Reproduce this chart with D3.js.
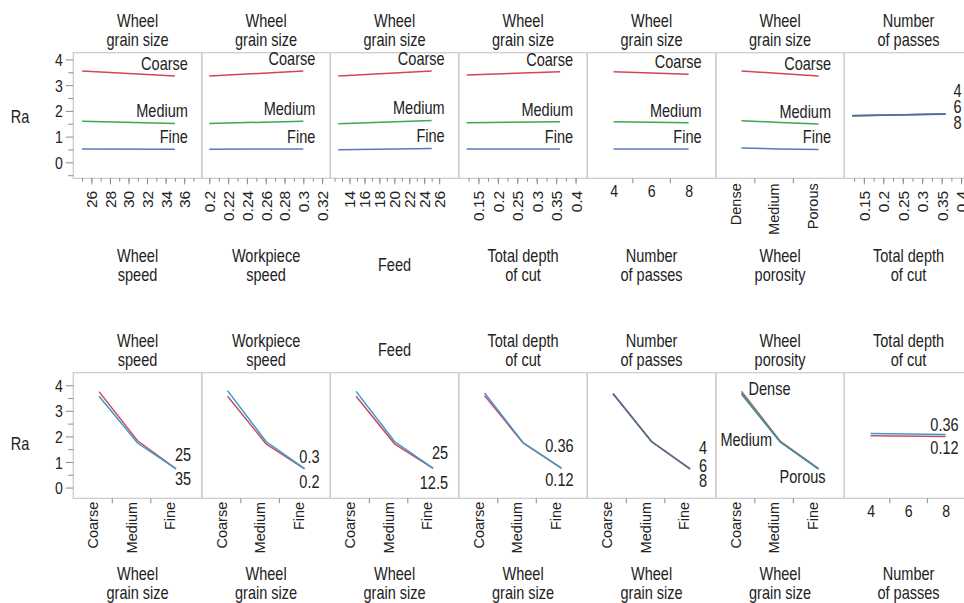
<!DOCTYPE html>
<html>
<head>
<meta charset="utf-8">
<title>Ra interaction profiles</title>
<script src="https://cdn.jsdelivr.net/npm/d3@7"></script>
<style>
  body { margin: 0; background: #fff; }
  text { font-family: "Liberation Sans", Arial, sans-serif; fill: #222; }
</style>
</head>
<body>
<script>
// ---- data ----
var grainSizes = ["Coarse", "Medium", "Fine"];
var porosityLevels = ["Dense", "Medium", "Porous"];
var passLevels = [4, 6, 8];

var wheelSpeedLevels = [25, 35];
var workSpeedLevels = [0.2, 0.3];
var feedLevels = [12.5, 25];
var depthLevels = [0.12, 0.36];
var passRange = [4, 8];

// tick labels
var wheelSpeedTicks = [26, 28, 30, 32, 34, 36];
var workSpeedTicks = [0.2, 0.22, 0.24, 0.26, 0.28, 0.3, 0.32];
var feedTicks = [14, 16, 18, 20, 22, 24, 26];
var depthTicks = [0.15, 0.2, 0.25, 0.3, 0.35, 0.4];
var raTicks = [0, 1, 2, 3, 4];

// top row: Ra for Coarse / Medium / Fine grain
var raWheelSpeed = [[3.55, 3.35], [1.60, 1.51], [0.52, 0.51]];
var raWorkSpeed  = [[3.35, 3.55], [1.51, 1.60], [0.51, 0.52]];
var raFeed       = [[3.35, 3.55], [1.50, 1.63], [0.49, 0.54]];
var raDepth      = [[3.39, 3.52], [1.54, 1.58], [0.52, 0.52]];
var raPasses     = [[3.52, 3.42], [1.58, 1.54], [0.52, 0.52]];
var raPorosity   = [[3.55, 3.45, 3.35], [1.62, 1.55, 1.49], [0.56, 0.52, 0.50]];
// Ra vs depth of cut for 4 / 6 / 8 passes
var raDepthByPasses = [[1.80, 1.89], [1.81, 1.88], [1.82, 1.87]];

// bottom row: Ra over grain size (Coarse, Medium, Fine), one line per factor level
var raGrainWheelSpeed = [[3.75, 1.83, 0.73], [3.57, 1.74, 0.73]];   // 25, 35
var raGrainWorkSpeed  = [[3.57, 1.71, 0.73], [3.79, 1.80, 0.74]];   // 0.2, 0.3
var raGrainFeed       = [[3.57, 1.71, 0.75], [3.76, 1.80, 0.76]];   // 12.5, 25
var raGrainDepth      = [[3.60, 1.74, 0.75], [3.70, 1.76, 0.76]];   // 0.12, 0.36
var raGrainPasses     = [[3.68, 1.80, 0.73], [3.67, 1.79, 0.73], [3.67, 1.80, 0.73]]; // 4, 6, 8
var raGrainPorosity   = [[3.76, 1.82, 0.74], [3.70, 1.80, 0.73], [3.65, 1.78, 0.72]]; // Dense, Medium, Porous
// Ra vs number of passes for depth 0.12 / 0.36
var raPassesByDepth   = [[2.03, 2.00], [2.11, 2.07]];

// ---- look ----
var grainColors = ["#d2465a", "#3da94c", "#5878bb"];
var levelColors = ["#cf4a5c", "#3a9cc8"];
var passColors = ["#c9485f", "#47a957", "#5068b8"];
var passColorsB = ["#b85a6a", "#5f9060", "#5a6c9c"];
var porColors = ["#d24b5b", "#44a651", "#4a86b0"];
var tickColor = "#8c8c8c";
var SQ = 0.83;              // text in the picture is horizontally condensed
var fTitle = 17.5, fTick = 17, fRot = 14.5, fRotNum = 15.5;
var LINE_GAP = 19.3;

var svg = d3.select("body").append("svg")
    .attr("width", 964)
    .attr("height", 603);

var panelLeft = 73.3, panelW = 128.5;
var rows = [
  {top: 52.7, bottom: 178.3, yDomain: [-0.62, 4.26], raBase: 123.3, headBase: 26.7, footBase: 261.5},
  {top: 372.7, bottom: 498.3, yDomain: [-0.42, 4.49], raBase: 450, headBase: 346.7, footBase: 580}
];

function hText(g, x, y, str, size, anchor) {
  return g.append("text")
      .attr("transform", "translate(" + x + "," + y + ") scale(" + SQ + ",1)")
      .attr("text-anchor", anchor || "middle")
      .style("font-size", size + "px")
      .text(str);
}

function makeSeries(values, xs, colors, labels) {
  return values.map(function(ys, i) {
    return {x: xs, y: ys, color: colors[i], label: String(labels[i])};
  });
}

function drawPanel(row, col, p) {
  var left = panelLeft + col * panelW, right = left + panelW;
  var y = d3.scaleLinear().domain(row.yDomain).range([row.bottom, row.top]);
  var g = svg.append("g");
  var x, px;
  if (p.cats) {
    x = d3.scaleBand().domain(p.cats).range([left + 0.5, left + 116]);
    px = function(d) { return x(d) + x.bandwidth() / 2 + 6; };
  } else {
    x = d3.scaleLinear().domain(p.xDomain).range([left, right]);
    px = function(d) { return x(d); };
  }

  // frame
  g.append("rect")
      .attr("x", left).attr("y", row.top)
      .attr("width", panelW).attr("height", row.bottom - row.top)
      .attr("fill", "none").attr("stroke", "#cdcdcd").attr("stroke-width", 1.3);

  // titles above and below
  var cx = left + panelW / 2;
  [[p.head, row.headBase], [p.foot, row.footBase]].forEach(function(t) {
    var lines = t[0], base = t[1];
    if (lines.length === 1) base += LINE_GAP / 2;
    lines.forEach(function(s, i) { hText(g, cx, base + i * LINE_GAP, s, fTitle); });
  });

  // x axis
  var axG = g.append("g").attr("transform", "translate(0," + row.bottom + ")");
  if (p.cats) {
    axG.call(d3.axisBottom(x).tickSize(0).tickPadding(0));
    axG.selectAll("text")
        .attr("x", 0).attr("y", 0).attr("dy", "0.35em")
        .attr("transform", "translate(0," + (row === rows[0] ? 5 : 3.5) + ") rotate(-90)")
        .attr("text-anchor", "end")
        .style("font-size", fRot + "px");
    axG.selectAll("line.sep")
      .data(p.cats.slice(1))
      .enter().append("line")
        .attr("x1", function(d) { return x(d); })
        .attr("x2", function(d) { return x(d); })
        .attr("y1", 0).attr("y2", 5)
        .attr("stroke", tickColor);
  } else if (p.intAxis) {
    axG.call(d3.axisBottom(x).tickValues([5, 7]).tickSize(5).tickFormat(""));
    var lab = g.append("g").attr("transform", "translate(0," + row.bottom + ")")
        .call(d3.axisBottom(x).tickValues(passLevels).tickSize(0).tickFormat(function(d) { return d; }));
    lab.select(".domain").remove();
    lab.selectAll("text")
        .attr("x", 0).attr("y", 0).attr("dy", 0)
        .attr("transform", "translate(0,18.4) scale(" + SQ + ",1)")
        .style("font-size", fTick + "px");
  } else {
    axG.call(d3.axisBottom(x).tickValues(p.minor).tickSize(3.5).tickFormat(""));
    var maj = g.append("g").attr("transform", "translate(0," + row.bottom + ")")
        .call(d3.axisBottom(x).tickValues(p.major).tickSize(6).tickFormat(function(d) { return d; }));
    maj.select(".domain").remove();
    maj.selectAll("line").attr("stroke", tickColor);
    maj.selectAll("text")
        .attr("x", 0).attr("y", 0).attr("dy", "0.35em")
        .attr("transform", "translate(0,12.5) rotate(-90)")
        .attr("text-anchor", "end")
        .style("font-size", fRotNum + "px");
  }
  axG.select(".domain").remove();
  axG.selectAll("line").attr("stroke", tickColor);

  // y axis on the first panel of each row
  if (col === 0) {
    var minorY = [-0.5, 0.5, 1.5, 2.5, 3.5].filter(function(v) {
      return v >= row.yDomain[0] && v <= row.yDomain[1];
    });
    var ya = g.append("g").attr("transform", "translate(" + left + ",0)")
        .call(d3.axisLeft(y).tickValues(minorY).tickSize(5).tickFormat(""));
    ya.select(".domain").remove();
    ya.selectAll("line").attr("stroke", tickColor);
    var yb = g.append("g").attr("transform", "translate(" + left + ",0)")
        .call(d3.axisLeft(y).tickValues(raTicks).tickSize(7.5).tickFormat(d3.format("d")));
    yb.select(".domain").remove();
    yb.selectAll("line").attr("stroke", tickColor);
    yb.selectAll("text")
        .attr("x", 0).attr("dy", "0.36em")
        .attr("transform", "translate(-10.5,0) scale(" + SQ + ",1)")
        .style("font-size", fTick + "px");
    hText(g, 20, row.raBase, "Ra", fTitle);
  }

  // lines
  var line = d3.line()
      .x(function(d) { return px(d[0]); })
      .y(function(d) { return y(d[1]); });
  p.series.forEach(function(s) {
    g.append("path")
        .datum(d3.zip(s.x, s.y))
        .attr("d", line)
        .attr("fill", "none")
        .attr("stroke", s.color)
        .attr("stroke-width", 1.5);
  });

  // line labels
  p.series.forEach(function(s, i) {
    var k = p.labelPoint ? p.labelPoint[i] : s.x.length - 1;
    var dx = Array.isArray(p.dx) ? p.dx[i] : p.dx;
    var anchor = p.anchor ? p.anchor[i] : "end";
    hText(g, px(s.x[k]) + dx, y(s.y[k]) + p.dy[i], s.label, fTitle, anchor);
  });
}

var grainHead = ["Wheel", "grain size"];
var topPanels = [
  {head: grainHead, foot: ["Wheel", "speed"], xDomain: [24.05, 37.9],
   minor: d3.range(25, 38, 1), major: wheelSpeedTicks,
   series: makeSeries(raWheelSpeed, wheelSpeedLevels, grainColors, grainSizes), dx: 13, dy: [-6, -6, -6]},
  {head: grainHead, foot: ["Workpiece", "speed"], xDomain: [0.192, 0.3287],
   minor: d3.range(0.2, 0.325, 0.01), major: workSpeedTicks,
   series: makeSeries(raWorkSpeed, workSpeedLevels, grainColors, grainSizes), dx: 12, dy: [-6, -6, -6]},
  {head: grainHead, foot: ["Feed"], xDomain: [11.43, 28.63],
   minor: d3.range(12, 27, 1), major: feedTicks,
   series: makeSeries(raFeed, feedLevels, grainColors, grainSizes), dx: 13, dy: [-6, -6, -6]},
  {head: grainHead, foot: ["Total depth", "of cut"], xDomain: [0.0997, 0.4301],
   minor: d3.range(0.125, 0.41, 0.025), major: depthTicks,
   series: makeSeries(raDepth, depthLevels, grainColors, grainSizes), dx: 13, dy: [-6, -6, -6]},
  {head: grainHead, foot: ["Number", "of passes"], xDomain: [2.6, 9.45], intAxis: true,
   series: makeSeries(raPasses, passRange, grainColors, grainSizes), dx: 13, dy: [-6, -6, -6]},
  {head: grainHead, foot: ["Wheel", "porosity"], cats: porosityLevels,
   series: makeSeries(raPorosity, porosityLevels, grainColors, grainSizes), dx: 12.5, dy: [-6, -6, -6]},
  {head: ["Number", "of passes"], foot: ["Total depth", "of cut"], xDomain: [0.0997, 0.4301],
   minor: d3.range(0.125, 0.41, 0.025), major: depthTicks,
   series: makeSeries(raDepthByPasses, depthLevels, passColors, passLevels), dx: 16, dy: [-17, -1, 15]}
];

var grainFoot = ["Wheel", "grain size"];
var bottomPanels = [
  {head: ["Wheel", "speed"], foot: grainFoot, cats: grainSizes,
   series: makeSeries(raGrainWheelSpeed, grainSizes, levelColors, wheelSpeedLevels), dx: 15, dy: [-8, 16]},
  {head: ["Workpiece", "speed"], foot: grainFoot, cats: grainSizes,
   series: makeSeries(raGrainWorkSpeed, grainSizes, levelColors, workSpeedLevels), dx: 15, dy: [19, -6]},
  {head: ["Feed"], foot: grainFoot, cats: grainSizes,
   series: makeSeries(raGrainFeed, grainSizes, levelColors, feedLevels), dx: 15, dy: [21, -9]},
  {head: ["Total depth", "of cut"], foot: grainFoot, cats: grainSizes,
   series: makeSeries(raGrainDepth, grainSizes, levelColors, depthLevels), dx: 12, dy: [18, -16]},
  {head: ["Number", "of passes"], foot: grainFoot, cats: grainSizes,
   series: makeSeries(raGrainPasses, grainSizes, passColorsB, passLevels), dx: 17, dy: [-15, 3, 18]},
  {head: ["Wheel", "porosity"], foot: grainFoot, cats: grainSizes,
   series: makeSeries(raGrainPorosity, grainSizes, porColors, porosityLevels),
   labelPoint: [0, 1, 2], anchor: ["start", "end", "end"], dx: [7, -8, 7], dy: [4, 4, 14]},
  {head: ["Total depth", "of cut"], foot: ["Number", "of passes"], xDomain: [2.6, 9.45], intAxis: true,
   series: makeSeries(raPassesByDepth, passRange, levelColors, depthLevels), dx: 13, dy: [18, -4]}
];

topPanels.forEach(function(p, i) { drawPanel(rows[0], i, p); });
bottomPanels.forEach(function(p, i) { drawPanel(rows[1], i, p); });
</script>
</body>
</html>
